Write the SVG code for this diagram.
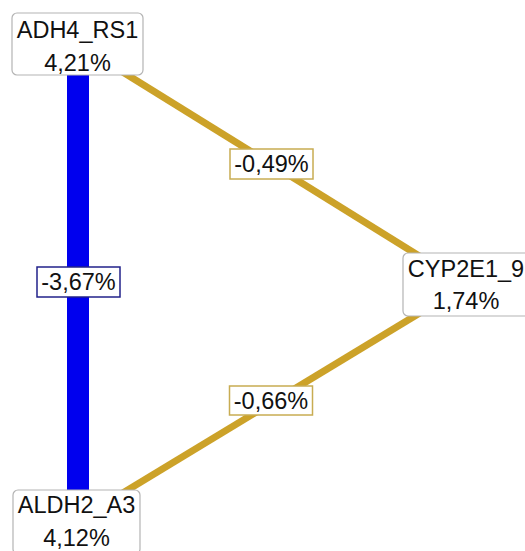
<svg xmlns="http://www.w3.org/2000/svg" width="525" height="551" viewBox="0 0 525 551">
  <style>
    text { font-family: "Liberation Sans", Arial, sans-serif; font-size: 23.5px; fill: #111; text-anchor: middle; }
    .node rect { fill: #fff; stroke: #b4b4b4; stroke-width: 1.2; }
    .edge-gold { stroke: #cca229; stroke-width: 7; }
    .edge-blue { stroke: #0000ee; stroke-width: 22; }
    .lbl-gold rect { fill: #fff; stroke: #c8ac52; stroke-width: 1.5; }
    .lbl-blue rect { fill: #fff; stroke: #22228a; stroke-width: 1.5; }
  </style>

  <!-- connectors -->
  <g id="edges">
    <line class="edge-gold" x1="77.5" y1="44" x2="466" y2="285"/>
    <line class="edge-gold" x1="76.5" y1="521" x2="466" y2="285"/>
    <line class="edge-blue" x1="78" y1="44" x2="78" y2="521"/>
    <g class="lbl-gold" id="label-adh4-cyp">
      <rect x="230" y="149" width="83" height="30"/>
      <text x="271.5" y="172">-0,49%</text>
    </g>
    <g class="lbl-gold" id="label-aldh2-cyp">
      <rect x="229.5" y="386" width="83" height="29"/>
      <text x="271" y="408.5">-0,66%</text>
    </g>
    <g class="lbl-blue" id="label-adh4-aldh2">
      <rect x="37" y="267" width="83" height="30"/>
      <text x="78.5" y="290">-3,67%</text>
    </g>
  </g>

  <!-- nodes -->
  <g class="node" id="ADH4_RS1">
    <rect x="12" y="13" width="131" height="62" rx="5"/>
    <text x="77.5" y="38">ADH4_RS1</text>
    <text x="77.5" y="71">4,21%</text>
  </g>
  <g class="node" id="CYP2E1_9">
    <rect x="403" y="253" width="128" height="63" rx="5"/>
    <text x="466" y="277">CYP2E1_9</text>
    <text x="466" y="309">1,74%</text>
  </g>
  <g class="node" id="ALDH2_A3">
    <rect x="13" y="490" width="127" height="64" rx="5"/>
    <text x="76.5" y="513">ALDH2_A3</text>
    <text x="76.5" y="546">4,12%</text>
  </g>
</svg>
